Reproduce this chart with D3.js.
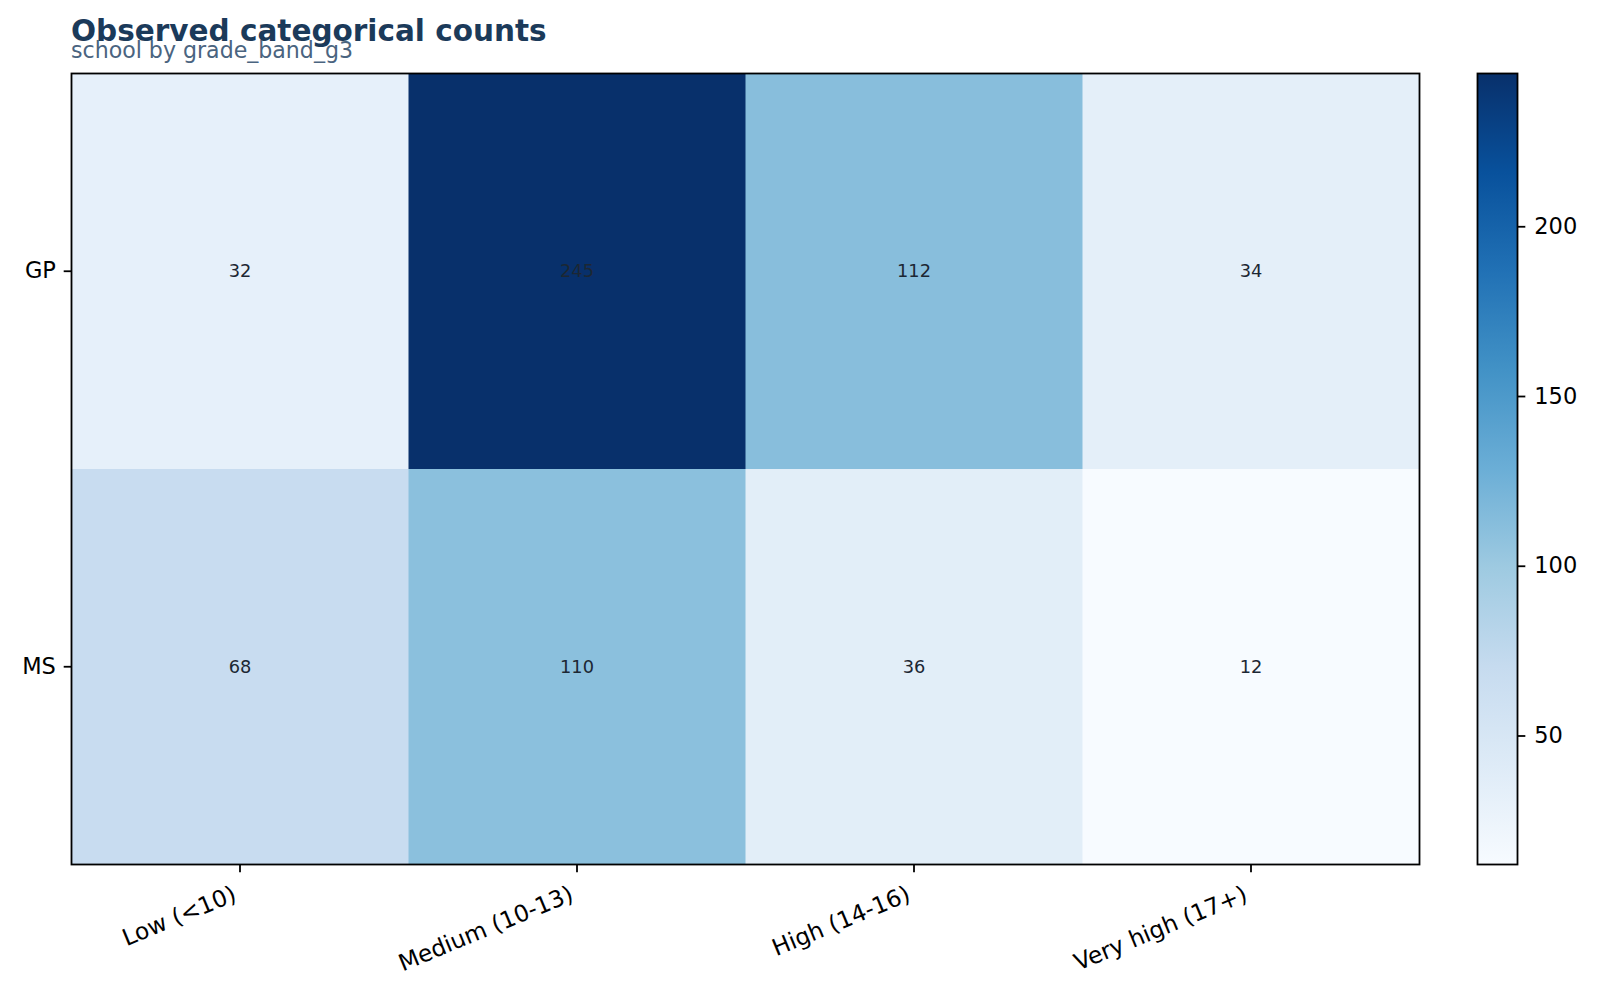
<!DOCTYPE html>
<html>
<head>
<meta charset="utf-8">
<script src="https://cdn.jsdelivr.net/npm/d3@7"></script>
<style>
  body { margin: 0; background: #fff; }
  text { font-family: "DejaVu Sans", sans-serif; }
</style>
</head>
<body>
<div class="heatmap"></div>
<script>
var rows = ["GP", "MS"];
var cols = ["Low (<10)", "Medium (10-13)", "High (14-16)", "Very high (17+)"];
var gpCounts = [32, 245, 112, 34];
var msCounts = [68, 110, 36, 12];
var colorbarTicks = [50, 100, 150, 200];

var counts = [gpCounts, msCounts];

// matplotlib "Blues" anchor colours
var blues = ["#f7fbff", "#deebf7", "#c6dbef", "#9ecae1", "#6baed6", "#4292c6", "#2171b5", "#08519c", "#08306b"];

var width = 1600, height = 1004;
var plot = { left: 71.5, top: 73.5, right: 1419.5, bottom: 864.5 };
var cbar = { left: 1477.5, right: 1517.5 };
var tickFont = 22.5;
var xTickFont = 23.3;
var xRotation = 22.5;

var svg = d3.select(".heatmap")
    .append("svg")
    .attr("width", width)
    .attr("height", height);

var cells = [];
counts.forEach(function (row, i) {
    row.forEach(function (v, j) {
        cells.push({ row: rows[i], col: cols[j], value: v });
    });
});

var vmin = d3.min(cells, function (d) { return d.value; });
var vmax = d3.max(cells, function (d) { return d.value; });

var t = d3.scaleLinear().domain([vmin, vmax]).range([0, 1]);
var cmap = d3.scaleLinear()
    .domain(blues.map(function (c, i) { return i / (blues.length - 1); }))
    .range(blues)
    .interpolate(d3.interpolateRgb);
function color(v) { return cmap(t(v)); }

var x = d3.scaleBand().domain(cols).range([plot.left, plot.right]).padding(0);
var y = d3.scaleBand().domain(rows).range([plot.top, plot.bottom]).padding(0);

svg.append("g")
    .selectAll("rect")
    .data(cells)
    .enter()
    .append("rect")
    .attr("x", function (d) { return x(d.col); })
    .attr("y", function (d) { return y(d.row); })
    .attr("width", x.bandwidth() + 0.5)
    .attr("height", y.bandwidth() + 0.5)
    .attr("fill", function (d) { return color(d.value); });

svg.append("g")
    .selectAll("text")
    .data(cells)
    .enter()
    .append("text")
    .attr("x", function (d) { return x(d.col) + x.bandwidth() / 2; })
    .attr("y", function (d) { return y(d.row) + y.bandwidth() / 2; })
    .attr("dy", "0.35em")
    .style("text-anchor", "middle")
    .style("font-size", "17.8px")
    .style("fill", "#1c2733")
    .text(function (d) { return d.value; });

// x axis: rotated labels, right edge of rotated box at the tick
var xAxis = svg.append("g")
    .attr("transform", "translate(0," + plot.bottom + ")")
    .call(d3.axisBottom(x).tickSize(7.8).tickPadding(7.8));
xAxis.select(".domain").remove();
xAxis.selectAll("line").attr("stroke", "#000").attr("stroke-width", 1.8);

var rot = xRotation * Math.PI / 180;
var asc = 0.928 * xTickFont, desc = 0.236 * xTickFont;
xAxis.selectAll("text")
    .style("font-size", xTickFont + "px")
    .style("fill", "#000")
    .style("text-anchor", "end")
    .attr("y", 0)
    .attr("dy", null)
    .attr("transform", "translate(" + (-desc * Math.sin(rot)) + "," + (15.6 + asc * Math.cos(rot)) + ") rotate(" + (-xRotation) + ")");

var yAxis = svg.append("g")
    .attr("transform", "translate(" + plot.left + ",0)")
    .call(d3.axisLeft(y).tickSize(7.8).tickPadding(7.8));
yAxis.select(".domain").remove();
yAxis.selectAll("line").attr("stroke", "#000").attr("stroke-width", 1.8);
yAxis.selectAll("text").style("font-size", tickFont + "px").style("fill", "#000");

svg.append("rect")
    .attr("x", plot.left)
    .attr("y", plot.top)
    .attr("width", plot.right - plot.left)
    .attr("height", plot.bottom - plot.top)
    .attr("fill", "none")
    .attr("stroke", "#000")
    .attr("stroke-width", 1.8);

// colorbar
var defs = svg.append("defs");
var grad = defs.append("linearGradient")
    .attr("id", "cbar-grad")
    .attr("x1", 0).attr("y1", 1).attr("x2", 0).attr("y2", 0);
grad.selectAll("stop")
    .data(blues)
    .enter()
    .append("stop")
    .attr("offset", function (d, i) { return (i / (blues.length - 1) * 100) + "%"; })
    .attr("stop-color", function (d) { return d; });

var cy = d3.scaleLinear().domain([vmin, vmax]).range([plot.bottom, plot.top]);

svg.append("rect")
    .attr("x", cbar.left)
    .attr("y", plot.top)
    .attr("width", cbar.right - cbar.left)
    .attr("height", plot.bottom - plot.top)
    .attr("fill", "url(#cbar-grad)")
    .attr("stroke", "#000")
    .attr("stroke-width", 1.8);

var cAxis = svg.append("g")
    .attr("transform", "translate(" + cbar.right + ",0)")
    .call(d3.axisRight(cy).tickValues(colorbarTicks).tickSize(7.8).tickPadding(9));
cAxis.select(".domain").remove();
cAxis.selectAll("line").attr("stroke", "#000").attr("stroke-width", 1.8);
cAxis.selectAll("text").style("font-size", tickFont + "px").style("fill", "#000");

// titles
svg.append("text")
    .attr("x", 71)
    .attr("y", 40.5)
    .style("font-size", "29.5px")
    .style("font-weight", "bold")
    .style("fill", "#1b3a5a")
    .text("Observed categorical counts");

svg.append("text")
    .attr("x", 71)
    .attr("y", 57.5)
    .style("font-size", "22.1px")
    .style("fill", "#4a6480")
    .text("school by grade_band_g3");
</script>
</body>
</html>
